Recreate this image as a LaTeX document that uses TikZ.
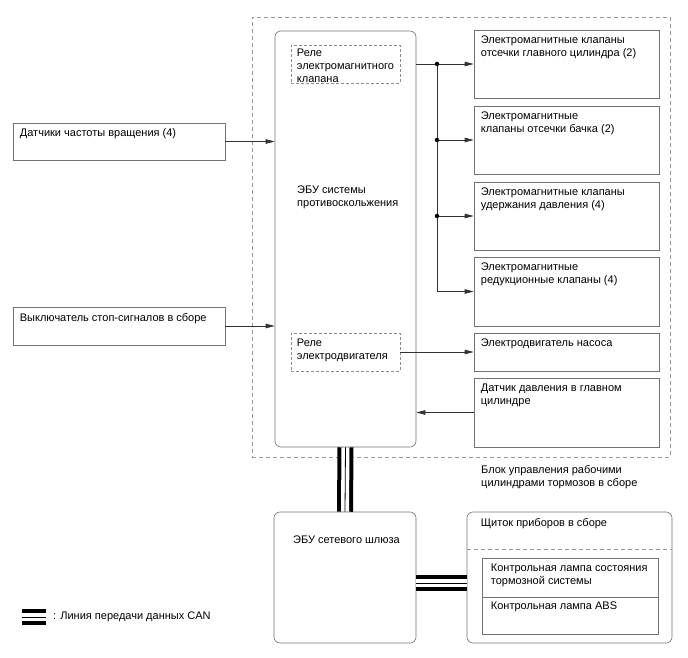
\documentclass[tikz,border=0pt]{standalone}
\usepackage{fontspec}
\setmainfont{Liberation Sans}
\usetikzlibrary{arrows.meta, positioning, calc}

\begin{document}
\begin{tikzpicture}[x=1pt, y=-1pt,
    box/.style={rectangle, draw=black!55, line width=0.6pt, fill=white, inner sep=0pt},
    unit/.style={box, rounded corners=6pt},
    relay/.style={rectangle, draw=black!45, dash pattern=on 3pt off 2pt, line width=0.6pt, inner sep=0pt},
    frame/.style={rectangle, draw=black!40, dash pattern=on 4pt off 3pt, line width=0.6pt, inner sep=0pt},
    note/.style={anchor=north west, inner sep=0pt, align=left, font=\fontsize{11}{13}\selectfont},
    conn/.style={draw=black!80, line width=0.6pt},
    arrow/.style={conn, -{Triangle[length=9pt, width=4.5pt]}},
    dot/.style={circle, fill=black, inner sep=0pt, minimum size=4.5pt},
    can/.style={draw=white, line width=8pt, preaction={draw=black, line width=16pt}, postaction={draw=black, line width=0.8pt}},
]
\useasboundingbox (0,0) rectangle (688,658);

% Brake actuator assembly
\node[frame, minimum width=418pt, minimum height=440pt] (blk) at (461,237) {};
\node[note] (blk_t) at (481,465.5) {Блок управления рабочими\\цилиндрами тормозов в сборе};

% ABS ECU
\node[unit, minimum width=141pt, minimum height=416pt] (abs) at (345.5,239) {};
\node[note] (abs_t) at (297,185.5) {ЭБУ системы\\противоскольжения};

\node[relay, minimum width=109pt, minimum height=38pt] (rl1) at (345.5,64) {};
\node[note] (rl1_t) at ([shift={(6pt,-4pt)}]rl1.north west) {Реле\\электромагнитного\\клапана};
\node[relay, minimum width=109pt, minimum height=38pt] (rl2) at (345.5,352) {};
\node[note] (rl2_t) at ([shift={(6pt,-6pt)}]rl2.north west) {Реле\\электродвигателя};

% Outputs
\node[box, minimum width=185pt, minimum height=68pt] (vlv1) at (566.5,64) {};
\node[box, minimum width=185pt, minimum height=68pt] (vlv2) at (566.5,140) {};
\node[box, minimum width=185pt, minimum height=68pt] (vlv3) at (566.5,216) {};
\node[box, minimum width=185pt, minimum height=69pt] (vlv4) at (566.5,291.5) {};
\node[box, minimum width=185pt, minimum height=38pt] (pump) at (566.5,352) {};
\node[box, minimum width=185pt, minimum height=69pt] (sens) at (566.5,412.5) {};

\node[note] at ([shift={(7pt,-6pt)}]vlv1.north west) (vlv1_t) {Электромагнитные клапаны\\отсечки главного цилиндра (2)};
\node[note] at ([shift={(7pt,-6pt)}]vlv2.north west) (vlv2_t) {Электромагнитные\\клапаны отсечки бачка (2)};
\node[note] at ([shift={(7pt,-6pt)}]vlv3.north west) (vlv3_t) {Электромагнитные клапаны\\удержания давления (4)};
\node[note] at ([shift={(7pt,-6pt)}]vlv4.north west) (vlv4_t) {Электромагнитные\\редукционные клапаны (4)};
\node[note] at ([shift={(7pt,-6pt)}]pump.north west) (pump_t) {Электродвигатель насоса};
\node[note] at ([shift={(7pt,-6pt)}]sens.north west) (sens_t) {Датчик давления в главном\\цилиндре};

% Inputs
\node[box, minimum width=212pt, minimum height=37pt] (spd) at (119,141.5) {};
\node[note] at ([shift={(7pt,-6pt)}]spd.north west) (spd_t) {Датчики частоты вращения (4)};
\node[box, minimum width=212pt, minimum height=38pt] (stop) at (119,326) {};
\node[note] at ([shift={(7pt,-7pt)}]stop.north west) (stop_t) {Выключатель стоп-сигналов в сборе};

% Connections
\coordinate (bus) at (437,64);
\draw[arrow] (abs.east |- vlv1.west) -- (vlv1.west);
\draw[conn] (bus |- vlv1.west) -- (bus |- vlv4.west);
\foreach \v in {vlv2,vlv3,vlv4}
    \draw[arrow] (bus |- \v.west) -- (\v.west);
\foreach \v in {vlv1,vlv2,vlv3}
    \node[dot] (d_\v) at (bus |- \v.west) {};
\draw[arrow] (rl2.east) -- (pump.west);
\draw[arrow] (sens.west) -- (sens.west -| abs.east);
\draw[arrow] (spd.east) -- (spd.east -| abs.west);
\draw[arrow] (stop.east) -- (stop.east -| abs.west);

% Gateway and combination meter
\node[unit, minimum width=142pt, minimum height=131pt] (gw) at (345,577.5) {};
\node[note] (gw_t) at (293,536) {ЭБУ сетевого шлюза};

\node[unit, minimum width=205pt, minimum height=131pt] (ic) at (569.5,577.5) {};
\node[note] at ([shift={(14pt,-7pt)}]ic.north west) (ic_t) {Щиток приборов в сборе};
\draw[draw=black!40, dash pattern=on 4pt off 3pt, line width=0.6pt] ([yshift=-38pt]ic.north west) -- ([yshift=-38pt]ic.north east);
\node[box, minimum width=176pt, minimum height=39pt] (lamp1) at (570,577.5) {};
\node[box, minimum width=176pt, minimum height=37pt] (lamp2) at (570,615.5) {};
\node[note] at ([shift={(9pt,-6pt)}]lamp1.north west) (lamp1_t) {Контрольная лампа состояния\\тормозной системы};
\node[note] at ([shift={(9pt,-5pt)}]lamp2.north west) (lamp2_t) {Контрольная лампа ABS};

% CAN
\draw[can] (abs.south) -- (gw.north);
\draw[can] ([yshift=-5.5pt]gw.east) -- ([yshift=-5.5pt]gw.east -| ic.west);

% Legend
\coordinate (legA) at (22,617);
\coordinate (legB) at (46,617);
\draw[can] (legA) -- (legB);
\node[note, anchor=west] (leg_t) at (53,617) {: Линия передачи данных CAN};

\end{tikzpicture}
\end{document}
